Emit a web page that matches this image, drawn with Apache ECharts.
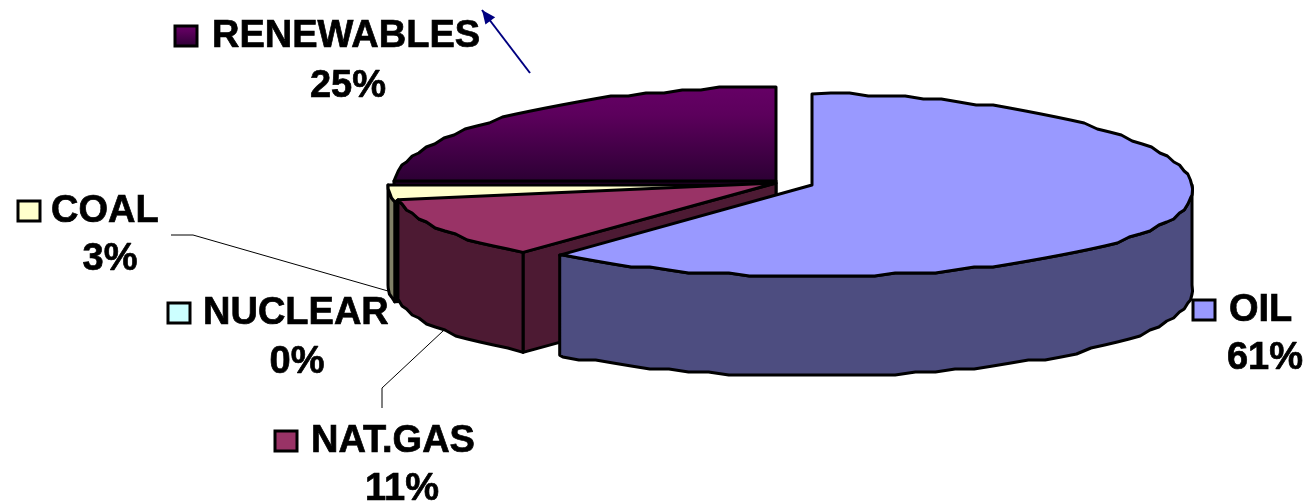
<!DOCTYPE html>
<html>
<head>
<meta charset="utf-8">
<style>html,body{margin:0;padding:0;background:#fff}#chart{width:1307px;height:504px}</style>
<script src="https://cdn.jsdelivr.net/npm/echarts@6/dist/echarts.min.js"></script>
</head>
<body>
<div id="chart"></div>
<script>
// Energy mix, clockwise from twelve o'clock
const sources = ['OIL', 'NAT.GAS', 'NUCLEAR', 'COAL', 'RENEWABLES'];
const shares = [61, 11, 0, 3, 25];
const topColors = ['#9999ff', '#993366', '#ccffff', '#ffffcc', '#660066'];
const wallColors = ['#4d4d80', '#4d1a33', '#668080', '#808066', '#33003a'];

// Projected disc of each slice (each one is pulled out a little)
const discs = [
  { cx: 812, cy: 185, rx: 380, ry: 91, flare: 0.054 },
  { cx: 776, cy: 183, rx: 381, ry: 90, flare: 0.054 },
  { cx: 775, cy: 184, rx: 381, ry: 90, flare: 0.054 },
  { cx: 772, cy: 185, rx: 384, ry: 90, flare: 0 },
  { cx: 776, cy: 181, rx: 382, ry: 94, flare: 0.054 }
];
const DEPTH = 100;
const ARC_STEP = 3;
const RIM_GRID = 3;
const EDGE = 3;

// Legend key and text placement for each slice (y of text is its baseline)
const labelBoxes = [
  { key: [1193, 300], nameX: 1229, nameY: 321, pctX: 1265, pctY: 369 },
  { key: [275, 431], nameX: 311, nameY: 452, pctX: 402, pctY: 500 },
  { key: [168, 303], nameX: 203, nameY: 324, pctX: 297, pctY: 373 },
  { key: [18, 201], nameX: 51, nameY: 222, pctX: 110, pctY: 270 },
  { key: [175, 26], nameX: 212, nameY: 47, pctX: 348, pctY: 97 }
];
const leaderLines = [
  [[171, 235], [193, 235], [388, 291]],
  [[382, 408], [382, 388], [443, 331]]
];
const arrowFrom = [530, 73];
const arrowTo = [482, 10];

const LABEL_FONT = "bold 38px 'Liberation Sans', Arial, sans-serif";
const BASELINE_SHIFT = 29;
const rad = d => d * Math.PI / 180;

function rimPoint(d, t, drop) {
  const s = Math.sin(rad(t)), c = Math.cos(rad(t));
  return [d.cx + d.rx * s * (1 - d.flare * c), d.cy - d.ry * c + drop];
}
// Rim as a coarse polyline on a small vertical grid
function rim(d, from, to, drop) {
  const pts = [rimPoint(d, from, drop)];
  for (let t = from + ARC_STEP; t < to; t += ARC_STEP) {
    const p = rimPoint(d, t, drop);
    pts.push([p[0], Math.round(p[1] / RIM_GRID) * RIM_GRID]);
  }
  if (to > from) pts.push(rimPoint(d, to, drop));
  return pts;
}

// Cumulative sweep per slice
let running = 0;
const sweeps = shares.map(v => {
  const a = running;
  running += v * 3.6;
  return [a, running];
});
// Painted back to front: renewables, coal, nuclear, gas, then oil
const sliceData = sources.map((_, i) => [sweeps[i][0], sweeps[i][1], i]).reverse();

function fillFor(i) {
  if (sources[i] !== 'RENEWABLES') return topColors[i];
  return new echarts.graphic.LinearGradient(0, 0, 0, 1, [
    { offset: 0, color: '#660066' },
    { offset: 0.3, color: '#5c005c' },
    { offset: 1, color: '#2b0033' }
  ]);
}

function drawSlice(params, api) {
  const a0 = api.value(0), a1 = api.value(1), i = api.value(2);
  const d = discs[i];
  const toPx = p => api.coord(p);
  const edge = { stroke: '#000', lineWidth: EDGE, lineJoin: 'round' };
  const kids = [];
  const poly = (pts, fill) => kids.push({
    type: 'polygon',
    shape: { points: pts.map(toPx) },
    style: Object.assign({ fill }, edge)
  });

  // Cut face on the leading edge, when it turns towards the viewer
  if (Math.sin(rad(a0)) < -0.01) {
    const p = rimPoint(d, a0, 0);
    poly([[d.cx, d.cy], p, [p[0], p[1] + DEPTH], [d.cx, d.cy + DEPTH]], wallColors[i]);
  }
  // Outer wall: only the front half of the rim shows
  const w0 = Math.max(a0, 90), w1 = Math.min(a1, 270);
  if (w1 >= w0 && a0 < 270) {
    const upper = rim(d, w0, w1, 0);
    const lower = rim(d, w0, w1, DEPTH).reverse();
    poly(upper.concat(lower), wallColors[i]);
  }
  // Top face
  poly([[d.cx, d.cy]].concat(rim(d, a0, a1, 0)), fillFor(i));
  return { type: 'group', children: kids };
}

function drawLabel(params, api) {
  const i = params.dataIndex;
  const b = labelBoxes[i];
  const k = api.coord(b.key);
  const n = api.coord([b.nameX, b.nameY]);
  const p = api.coord([b.pctX, b.pctY]);
  const ink = { font: LABEL_FONT, fill: '#000', stroke: '#000', lineWidth: 0.7, verticalAlign: 'top' };
  return {
    type: 'group',
    children: [
      {
        type: 'rect',
        shape: { x: k[0], y: k[1], width: 22, height: 20 },
        style: { fill: fillFor(i), stroke: '#000', lineWidth: 3 }
      },
      {
        type: 'text',
        style: Object.assign({ x: n[0], y: n[1] - BASELINE_SHIFT, text: sources[i], align: 'left' }, ink)
      },
      {
        type: 'text',
        style: Object.assign({ x: p[0], y: p[1] - BASELINE_SHIFT, text: shares[i] + '%', align: 'center' }, ink)
      }
    ]
  };
}

function drawLeader(params, api) {
  return {
    type: 'polyline',
    shape: { points: leaderLines[params.dataIndex].map(p => api.coord(p)) },
    style: { fill: null, stroke: '#000', lineWidth: 1 }
  };
}

function drawArrow(params, api) {
  const a = api.coord(arrowFrom), b = api.coord(arrowTo);
  const ang = Math.atan2(b[1] - a[1], b[0] - a[0]);
  const len = 15, spread = 0.42;
  const head = [
    b,
    [b[0] - len * Math.cos(ang - spread), b[1] - len * Math.sin(ang - spread)],
    [b[0] - len * Math.cos(ang + spread), b[1] - len * Math.sin(ang + spread)]
  ];
  return {
    type: 'group',
    children: [
      { type: 'line', shape: { x1: a[0], y1: a[1], x2: b[0], y2: b[1] },
        style: { stroke: '#000080', lineWidth: 2 } },
      { type: 'polygon', shape: { points: head }, style: { fill: '#000080' } }
    ]
  };
}

const chart = echarts.init(document.getElementById('chart'), null, { renderer: 'canvas' });
chart.setOption({
  animation: false,
  backgroundColor: '#fff',
  grid: { left: 0, right: 0, top: 0, bottom: 0 },
  xAxis: { type: 'value', min: 0, max: 1307, show: false },
  yAxis: { type: 'value', min: 0, max: 504, inverse: true, show: false },
  series: [
    { type: 'custom', name: 'slices', renderItem: drawSlice, data: sliceData,
      silent: true, clip: false, z: 2 },
    { type: 'custom', name: 'leaders', renderItem: drawLeader,
      data: leaderLines.map((_, i) => [i, i]), silent: true, clip: false, z: 1 },
    { type: 'custom', name: 'labels', renderItem: drawLabel,
      data: sources.map((_, i) => [i, shares[i]]), silent: true, clip: false, z: 3 },
    { type: 'custom', name: 'arrow', renderItem: drawArrow,
      data: [[0, 0]], silent: true, clip: false, z: 3 }
  ]
});
</script>
</body>
</html>
